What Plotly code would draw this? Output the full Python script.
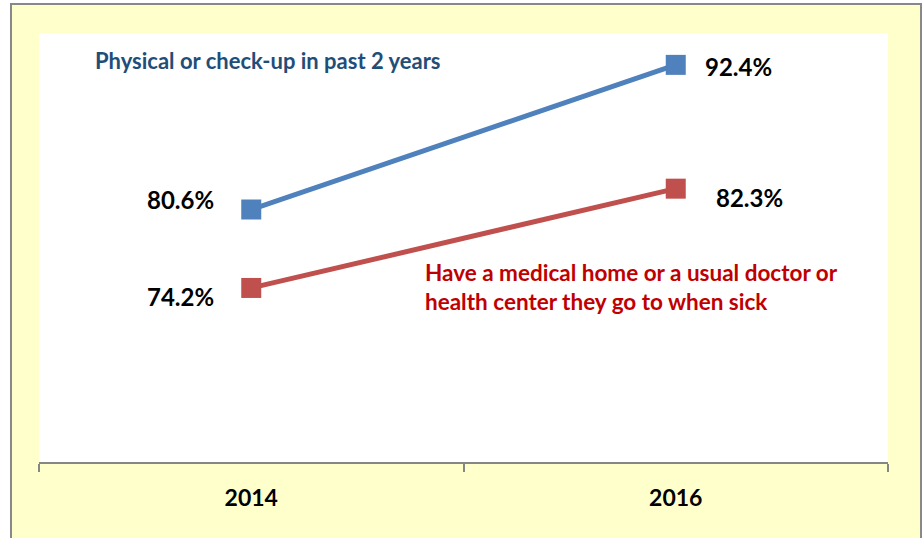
import plotly.graph_objects as go

years = ["2014", "2016"]
checkup = [80.6, 92.4]
medical_home = [74.2, 82.3]
checkup_labels = ["80.6%", "92.4%"]
home_labels = ["74.2%", "82.3%"]

BLUE = "#4F81BD"
RED = "#C0504D"
FONT = "Lato"

fig = go.Figure()
fig.add_trace(go.Scatter(x=years, y=checkup, mode="lines+markers",
                         line=dict(color=BLUE, width=5),
                         marker=dict(symbol="square", size=20, color=BLUE),
                         hoverinfo="skip", showlegend=False))
fig.add_trace(go.Scatter(x=years, y=medical_home, mode="lines+markers",
                         line=dict(color=RED, width=5),
                         marker=dict(symbol="square", size=20, color=RED),
                         hoverinfo="skip", showlegend=False))

lab_font = dict(family=FONT, size=24, color="#000000")
# (category index, y, text, xanchor, xshift, yshift)
specs = [
    (0, checkup[0], checkup_labels[0], "right", -35, 10),
    (1, checkup[1], checkup_labels[1], "left", 27, -2),
    (0, medical_home[0], home_labels[0], "right", -35, -9),
    (1, medical_home[1], home_labels[1], "left", 38, -9),
]
for i, y, t, xa, xs, ys in specs:
    fig.add_annotation(x=i, y=y, text="<b>%s</b>" % t, showarrow=False,
                       xanchor=xa, yanchor="middle", xshift=xs, yshift=ys,
                       font=lab_font)

fig.add_annotation(xref="paper", yref="paper", x=0.0636, y=0.937,
                   text="<b>Physical or check-up in past 2 years</b>",
                   showarrow=False, xanchor="left", yanchor="middle",
                   font=dict(family=FONT, size=22, color="#1F4E79"))
fig.add_annotation(xref="paper", yref="paper", x=0.4523, y=0.4068,
                   text="<b>Have a medical home or a usual doctor or<br>health center they go to when sick</b>",
                   showarrow=False, xanchor="left", yanchor="middle", align="left",
                   font=dict(family=FONT, size=22.5, color="#C00000"))

# outer chart frame (yellow fill, gray border)
fig.add_shape(type="rect", xref="paper", yref="paper",
              x0=-0.033, x1=1.0389, y0=-0.3, y1=1.0676,
              fillcolor="#FFFFCC",
              line=dict(color="#888888", width=2), layer="below")
# white plot area
fig.add_shape(type="rect", xref="paper", yref="paper",
              x0=0, x1=1, y0=0, y1=1,
              fillcolor="#FFFFFF", line=dict(width=0), layer="below")

fig.update_layout(
    width=922, height=538,
    margin=dict(l=39, r=34, t=33, b=76),
    paper_bgcolor="#FFFFFF",
    plot_bgcolor="rgba(0,0,0,0)",
    xaxis=dict(type="category", range=[-0.5, 1.5], tickson="boundaries",
               ticks="outside", ticklen=8, tickwidth=2, tickcolor="#868686",
               showline=True, linecolor="#868686", linewidth=2,
               showgrid=False, zeroline=False, ticklabelstandoff=14,
               tickfont=dict(family=FONT, size=23, color="#000000"),
               tickprefix="<b>", ticksuffix="</b>", fixedrange=True),
    yaxis=dict(range=[60, 95], visible=False, showgrid=False, zeroline=False,
               fixedrange=True),
)

fig.write_html("out.html", config={"displayModeBar": False},
               post_script="document.body.style.margin='0';document.body.style.overflow='hidden';")
